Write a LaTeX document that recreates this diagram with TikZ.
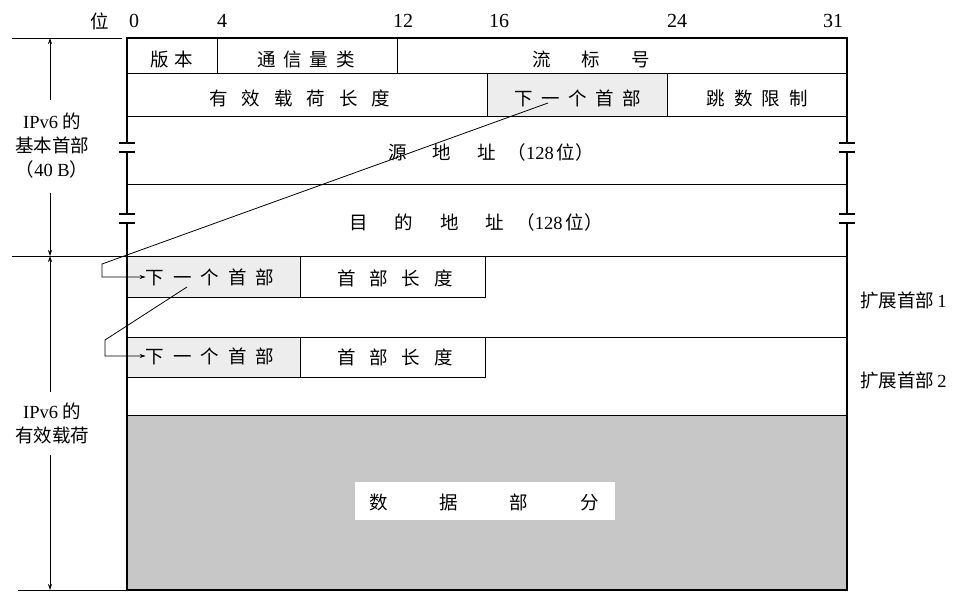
\documentclass[tikz,border=0pt]{standalone}
\usepackage{fontspec}
\setmainfont{Liberation Serif}
\newfontfamily\cjk{Noto Sans CJK SC}
\usetikzlibrary{arrows.meta}
\newcommand\gp[1]{\hspace{#1pt}}
\begin{document}
\begin{tikzpicture}[x=1pt,y=-1pt,
  txt/.style={inner sep=0pt, font=\fontsize{18.5}{22}\selectfont\cjk},
  num/.style={inner sep=0pt, font=\fontsize{20}{22}\selectfont},
  rowline/.style={line width=0.8pt},
  frame/.style={line width=2.2pt},
  brk/.style={line width=1.8pt},
  guide/.style={line width=0.6pt},
  arr/.style={line width=0.8pt,-{Stealth[length=6pt,width=4pt]}},
  link/.style={line width=0.8pt,-{Stealth[length=6pt,width=4pt]}}]
\useasboundingbox (0,0) rectangle (968,598);
% fills
\fill[black!7] (487,73) rectangle (667,116);
\fill[black!7] (127,256) rectangle (300,297);
\fill[black!7] (127,337) rectangle (300,377);
\fill[black!22] (127,415) rectangle (847,590);
\fill[white] (355,482) rectangle (615,520);
% row lines
\foreach \yy in {73,116,184,256,337,415}{\draw[rowline] (127,\yy) -- (847,\yy);}
\draw[rowline] (217,38) -- (217,73);
\draw[rowline] (397,38) -- (397,73);
\draw[rowline] (487,73) -- (487,116);
\draw[rowline] (667,73) -- (667,116);
\draw[rowline] (127,256) rectangle (485,297);
\draw[rowline] (300,256) -- (300,297);
\draw[rowline] (127,337) rectangle (485,377);
\draw[rowline] (300,337) -- (300,377);
% frame
\draw[frame] (126,38) -- (848,38);
\draw[frame] (126,590) -- (848,590);
\foreach \xx in {127,847}{
  \draw[frame] (\xx,37) -- (\xx,143);
  \draw[frame] (\xx,152) -- (\xx,214);
  \draw[frame] (\xx,223) -- (\xx,591);
  \foreach \yy in {143,152,214,223}{\draw[brk] (\xx-8,\yy) -- (\xx+8,\yy);}
}
% left guides
\draw[guide] (12,38) -- (122,38);
\draw[guide] (12,256) -- (127,256);
\draw[guide] (18,590) -- (127,590);
% bit labels
\node[txt] (wei) at (100,21) {位};
\node[num] (b0) at (134,21) {0};
\node[num] (b4) at (222,21) {4};
\node[num] (b12) at (403,21) {12};
\node[num] (b16) at (499,21) {16};
\node[num] (b24) at (677,21) {24};
\node[num] (b31) at (833,21) {31};
% header fields
\node[txt] (ver) at (172,59) {版\gp{6}本};
\node[txt] (tc) at (306,59) {通\gp{8}信\gp{8}量\gp{8}类};
\node[txt] (flow) at (591,59) {流\gp{31}标\gp{31}号};
\node[txt] (plen) at (300,98) {有\gp{14}效\gp{14}载\gp{14}荷\gp{14}长\gp{14}度};
\node[txt] (nh) at (578,98) {下\gp{8.5}一\gp{8.5}个\gp{8.5}首\gp{8.5}部};
\node[txt] (hop) at (757,98) {跳\gp{9}数\gp{9}限\gp{9}制};
\node[txt] (src) at (491,152) {源\gp{26}地\gp{26}址\gp{12}（{\rmfamily 128}\,位）};
\node[txt] (dst) at (476,222) {目\gp{27}的\gp{27}地\gp{27}址\gp{12}（{\rmfamily 128}\,位）};
% extension headers
\node[txt] (nh1) at (210,277) {下\gp{9}一\gp{9}个\gp{9}首\gp{9}部};
\node[txt] (hl1) at (395,278) {首\gp{14}部\gp{14}长\gp{14}度};
\node[txt] (nh2) at (210,356) {下\gp{9}一\gp{9}个\gp{9}首\gp{9}部};
\node[txt] (hl2) at (395,357) {首\gp{14}部\gp{14}长\gp{14}度};
\node[txt] (data) at (484,502) {数\gp{52}据\gp{52}部\gp{52}分};
% right labels
\node[txt, anchor=west] (ext1) at (860,300) {扩展首部\,{\rmfamily 1}};
\node[txt, anchor=west] (ext2) at (860,380) {扩展首部\,{\rmfamily 2}};
% left labels
\node[txt] (lb1) at (52,121) {{\rmfamily IPv6} 的};
\node[txt] (lb2) at (52,145) {基本首部};
\node[txt] (lb3) at (52,169) {（{\rmfamily 40 B}）};
\node[txt] (lp1) at (52,411) {{\rmfamily IPv6} 的};
\node[txt] (lp2) at (52,435) {有效载荷};
\coordinate (t1) at (50,100);
\coordinate (t2) at (50,38);
\coordinate (t3) at (50,193);
\coordinate (t4) at (50,256);
\coordinate (t5) at (50,392);
\coordinate (t6) at (50,455);
\coordinate (t7) at (50,590);
\draw[arr] (t1) -- (t2);
\draw[arr] (t3) -- (t4);
\draw[arr] (t5) -- (t4);
\draw[arr] (t6) -- (t7);
% links
\coordinate (s1) at (548,103);
\coordinate (k1) at (102,264);
\coordinate (s2) at (187,287);
\coordinate (k2) at (105,340);
\draw[link] (s1) -- (k1) |- (nh1.west);
\draw[link] (s2) -- (k2) |- (nh2.west);
\end{tikzpicture}
\end{document}
